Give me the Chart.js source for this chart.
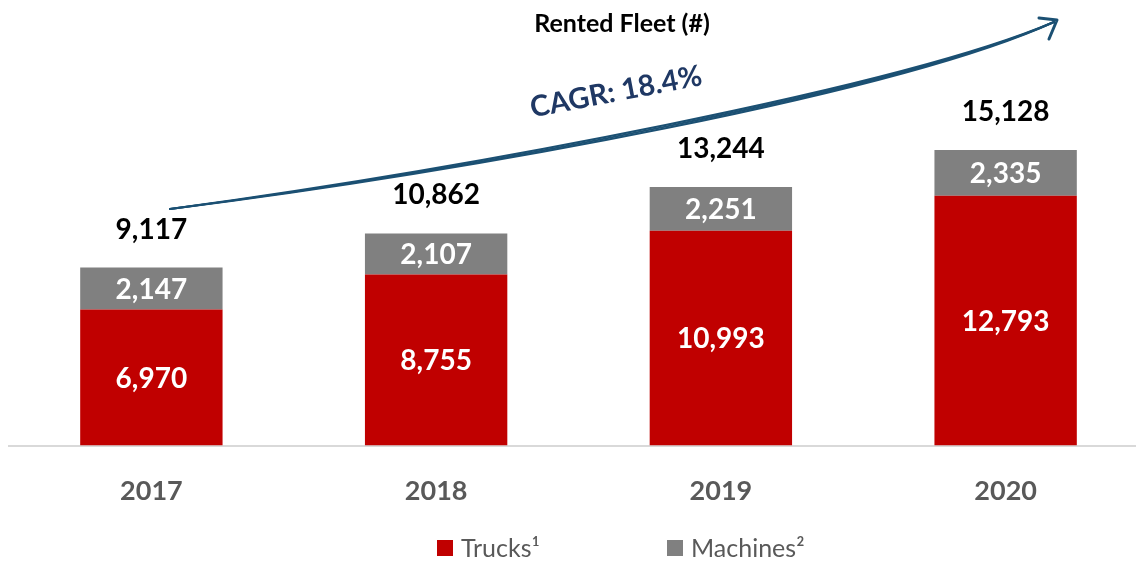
<!DOCTYPE html>
<html>
<head>
<meta charset="utf-8">
<script src="https://cdn.jsdelivr.net/npm/chart.js@4"></script>
<style>
  html, body { margin: 0; padding: 0; background: #fff; overflow: hidden; }
  #wrap { width: 1148px; height: 562px; }
</style>
</head>
<body>
<div id="wrap"><canvas id="myChart"></canvas></div>
<script>
const years = ['2017', '2018', '2019', '2020']
const trucks = [6970, 8755, 10993, 12793]
const machines = [2147, 2107, 2251, 2335]
const totals = [9117, 10862, 13244, 15128]
const seriesNames = ['Trucks¹', 'Machines²']
const cagrText = 'CAGR: 18.4%'

const FONT = 'Lato, "Open Sans", sans-serif'
const RED = '#c00000'
const GREY = '#808080'

const fmt = v => v.toLocaleString('en-US')

// labels in segments, totals on top, title, legend and the growth arrow
const extras = {
    id: 'extras',
    afterDatasetsDraw(chart) {
        const c = chart.ctx
        c.save()
        c.textAlign = 'center'
        c.textBaseline = 'middle'
        c.font = 'bold 28px ' + FONT
        c.fillStyle = '#ffffff'
        chart.data.datasets.forEach((ds, i) => {
            chart.getDatasetMeta(i).data.forEach((bar, j) => {
                const mid = (bar.y + bar.base) / 2
                c.fillText(fmt(ds.data[j]), bar.x, mid + 1)
            })
        })
        c.fillStyle = '#000000'
        chart.getDatasetMeta(1).data.forEach((bar, j) => {
            c.fillText(fmt(totals[j]), bar.x, bar.y - 38)
        })

        // title
        c.font = 'bold 25px ' + FONT
        c.fillText('Rented Fleet (#)', 622, 24)

        // legend
        c.textAlign = 'left'
        c.font = '25px ' + FONT
        const items = [[437, RED], [667, GREY]]
        items.forEach((it, i) => {
            c.fillStyle = it[1]
            c.fillRect(it[0], 540, 16, 16)
            c.fillStyle = '#595959'
            c.fillText(seriesNames[i], it[0] + 24, 549)
        })

        // arrow
        const p0 = [170, 209], p1 = [470, 170], p2 = [900, 90], p3 = [1054, 22]
        c.strokeStyle = '#1b5073'
        c.lineCap = 'round'
        const offs = [[-2, -2.5], [0, 0], [2, 2.5]]
        offs.forEach(o => {
            c.lineWidth = 2
            c.beginPath()
            c.moveTo(p0[0], p0[1])
            c.bezierCurveTo(p1[0], p1[1] + o[0], p2[0], p2[1] + o[1], p3[0], p3[1])
            c.stroke()
        })
        c.lineWidth = 3
        c.lineJoin = 'round'
        c.beginPath()
        c.moveTo(1039, 18)
        c.lineTo(1057, 20)
        c.lineTo(1049, 39)
        c.stroke()

        c.translate(616, 92)
        c.rotate(-0.19)
        c.textAlign = 'center'
        c.font = 'bold 29px ' + FONT
        c.fillStyle = '#1f3864'
        c.fillText(cagrText, 0, 0)
        c.restore()
    }
}

const ctx = document.getElementById('myChart').getContext('2d')

const myChart = new Chart(ctx, {
    type: 'bar',
    data: {
        labels: years,
        datasets: [{
            label: seriesNames[0],
            data: trucks,
            backgroundColor: RED,
            barPercentage: 0.5,
            categoryPercentage: 1
        }, {
            label: seriesNames[1],
            data: machines,
            backgroundColor: GREY,
            barPercentage: 0.5,
            categoryPercentage: 1
        }]
    },
    options: {
        responsive: true,
        maintainAspectRatio: false,
        animation: false,
        layout: {
            padding: { top: 94, left: 9, right: 0, bottom: 34 }
        },
        scales: {
            x: {
                stacked: true,
                grid: { display: false },
                border: { color: '#d9d9d9', width: 2 },
                ticks: {
                    padding: 21,
                    color: '#595959',
                    font: { family: FONT, size: 27, weight: 'bold' }
                }
            },
            y: {
                stacked: true,
                display: false,
                min: 0,
                max: 18000
            }
        },
        plugins: {
            title: { display: false },
            tooltip: { enabled: false },
            legend: { display: false }
        }
    },
    plugins: [extras]
})
</script>
</body>
</html>
